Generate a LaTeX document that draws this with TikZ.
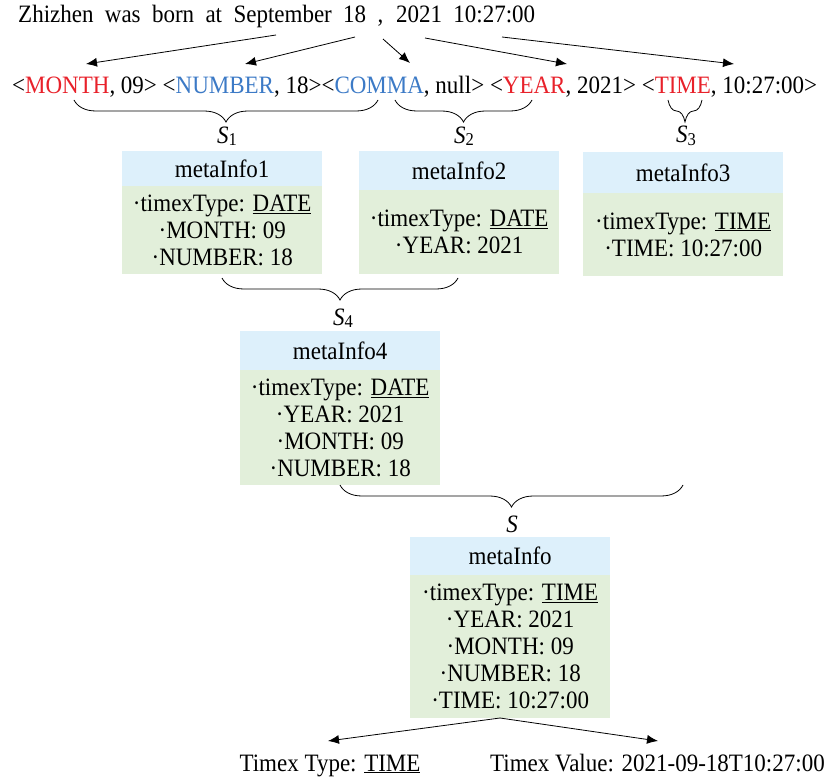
\documentclass[tikz,border=0pt]{standalone}
\usepackage{fontspec}
\setmainfont{Liberation Serif}[FakeStretch=0.92]
\usetikzlibrary{arrows.meta,decorations.pathreplacing}
\definecolor{hdrc}{RGB}{221,240,251}
\definecolor{bdyc}{RGB}{226,239,218}
\definecolor{tokred}{RGB}{232,33,42}
\definecolor{tokblue}{RGB}{60,122,198}
\newcommand{\pc}{\textperiodcentered}
\newcommand{\Slab}[1]{\textit{S}\raisebox{-0.1em}{\fontsize{18}{18}\selectfont #1}}
\begin{document}
\begin{tikzpicture}[x=1pt,y=-1pt,
  font=\fontsize{25}{27}\selectfont,
  hdrbox/.style={fill=hdrc, minimum width=200pt, inner sep=0pt, anchor=north west},
  bdybox/.style={fill=bdyc, minimum width=200pt, inner sep=0pt, anchor=north west, align=center},
  arr/.style={-{Latex[length=11pt,width=9pt]}, line width=0.8pt},
  brc/.style={decorate, decoration={brace, mirror, amplitude=22pt}, line width=0.8pt},
  lbl/.style={inner sep=0pt}]
\useasboundingbox (0,0) rectangle (828,778);

% source sentence
\node[lbl, anchor=base west] (src) at (18,23) {\makebox[517pt][s]{Zhizhen was born at September 18 , 2021 10:27:00}};
\coordinate (s1) at (276,35);
\coordinate (s2) at (355,37);
\coordinate (s3) at (383,39);
\coordinate (s4) at (425,38);
\coordinate (s5) at (502,37);

% token line
\node[lbl, anchor=base west] (tok) at (12,94) {<\textcolor{tokred}{MONTH}, 09> <\textcolor{tokblue}{NUMBER}, 18><\textcolor{tokblue}{COMMA}, null> <\textcolor{tokred}{YEAR}, 2021> <\textcolor{tokred}{TIME}, 10:27:00>};
\coordinate (e1) at (86,64);
\coordinate (e2) at (245,64);
\coordinate (e3) at (410,63);
\coordinate (e4) at (567,64);
\coordinate (e5) at (734,64);
\draw[arr] (s1) -- (e1);
\draw[arr] (s2) -- (e2);
\draw[arr] (s3) -- (e3);
\draw[arr] (s4) -- (e4);
\draw[arr] (s5) -- (e5);

% braces level 1
\coordinate (b1l) at (74,100); \coordinate (b1r) at (378,100);
\coordinate (b2l) at (395,100); \coordinate (b2r) at (532,100);
\coordinate (b3l) at (668,100); \coordinate (b3r) at (702,100);
\draw[brc] (b1l) -- (b1r);
\draw[brc] (b2l) -- (b2r);
\draw[brc] (b3l) -- (b3r);
\node[lbl] (S1) at (227,136) {\Slab{1}};
\node[lbl] (S2) at (464,136) {\Slab{2}};
\node[lbl] (S3) at (686,136) {\Slab{3}};

% metaInfo1-3
\node[hdrbox, minimum height=35pt] (h1) at (122,151) {metaInfo1};
\node[bdybox, minimum height=88pt] (m1) at (122,186) {\pc timexType: \underline{DATE}\\\pc MONTH: 09\\\pc NUMBER: 18};
\node[hdrbox, minimum height=39pt] (h2) at (359,151) {metaInfo2};
\node[bdybox, minimum height=84pt] (m2) at (359,190) {\pc timexType: \underline{DATE}\\\pc YEAR: 2021};
\node[hdrbox, minimum height=41pt] (h3) at (583,152) {metaInfo3};
\node[bdybox, minimum height=83pt] (m3) at (583,193) {\pc timexType: \underline{TIME}\\\pc TIME: 10:27:00};

% brace S4
\coordinate (b4l) at (222,278); \coordinate (b4r) at (458,278);
\draw[brc] (b4l) -- (b4r);
\node[lbl] (S4) at (343,318) {\Slab{4}};

% metaInfo4
\node[hdrbox, minimum height=39pt] (h4) at (240,331) {metaInfo4};
\node[bdybox, minimum height=115pt] (m4) at (240,370) {\pc timexType: \underline{DATE}\\\pc YEAR: 2021\\\pc MONTH: 09\\\pc NUMBER: 18};

% brace S
\coordinate (b5l) at (340,485); \coordinate (b5r) at (683,485);
\draw[brc] (b5l) -- (b5r);
\node[lbl] (S) at (512,524) {\textit{S}};

% metaInfo
\node[hdrbox, minimum height=38pt] (h5) at (410,537) {metaInfo};
\node[bdybox, minimum height=143pt] (m5) at (410,575) {\pc timexType: \underline{TIME}\\\pc YEAR: 2021\\\pc MONTH: 09\\\pc NUMBER: 18\\\pc TIME: 10:27:00};

% outputs
\coordinate (o) at (500,718);
\node[lbl, anchor=base] (tt) at (330,771) {Timex Type: \underline{TIME}};
\node[lbl, anchor=base west] (tv) at (490,771) {Timex Value: 2021-09-18T10:27:00};
\coordinate (ot) at (328,741);
\coordinate (ov) at (658,741);
\draw[arr] (o) -- (ot);
\draw[arr] (o) -- (ov);
\end{tikzpicture}
\end{document}
